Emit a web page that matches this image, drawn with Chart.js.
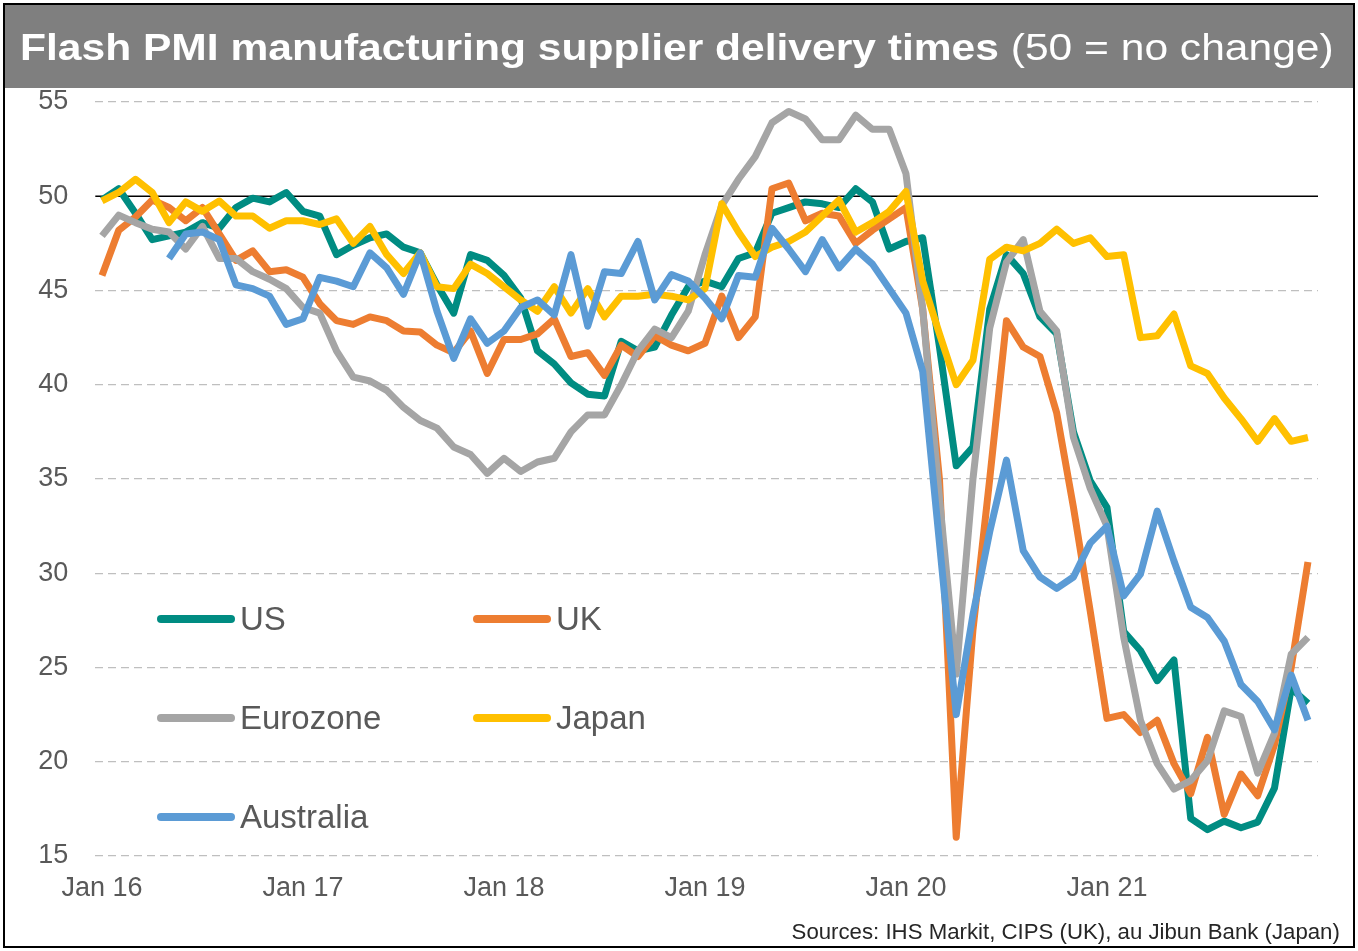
<!DOCTYPE html>
<html>
<head>
<meta charset="utf-8">
<script src="https://cdn.jsdelivr.net/npm/chart.js@4.4.1/dist/chart.umd.min.js"></script>
<style>
  body { margin: 0; background: #fff; }
  #wrap { position: relative; width: 1358px; height: 951px; overflow: hidden; background: #fff;
          font-family: "Liberation Sans", Arial, sans-serif; }
  #c { position: absolute; left: 0; top: 0; }
  #frame { position: absolute; left: 3px; top: 3px; width: 1352px; height: 945px; box-sizing: border-box;
           border: 2px solid #000; pointer-events: none; }
  #title { position: absolute; left: 3px; top: 3px; width: 1352px; height: 85px; background: #7f7f7f;
           color: #fff; white-space: nowrap; }
  #title .t { position: absolute; left: 17px; top: 2px; line-height: 85px; font-size: 37px;
              transform: scaleX(1.15); transform-origin: left center; }
  #title b { font-weight: bold; }
  .lg-sample { position: absolute; width: 78px; height: 8px; border-radius: 4px; }
  .lg-text { position: absolute; font-size: 33px; line-height: 40px; color: #595959; white-space: nowrap; }
  #source { position: absolute; right: 18px; top: 919px; font-size: 22px; line-height: 26px; color: #262626;
            white-space: nowrap; transform: scaleX(1.01); transform-origin: right center; }
</style>
</head>
<body>
<div id="wrap">
  <canvas id="c" width="1358" height="951"></canvas>
  <div id="title"><span class="t"><b>Flash PMI manufacturing supplier delivery times</b> (50 = no change)</span></div>
  <div id="frame"></div>
  <div id="legend"></div>
  <div id="source">Sources: IHS Markit, CIPS (UK), au Jibun Bank (Japan)</div>
</div>
<script>
// ---- Data (monthly, Jan 2016 .. Jan 2022) ----
const tickLabels = ['Jan 16', 'Jan 17', 'Jan 18', 'Jan 19', 'Jan 20', 'Jan 21'];
const noChangeLevel = 50;

const usValues = [
  49.8, 50.4, 49.1, 47.7, 47.9, 48.1, 48.6, 48.3, 49.4, 49.9, 49.7, 50.2,
  49.2, 48.95, 46.9, 47.4, 47.8, 48.0, 47.3, 47.0, 45.3, 43.8, 46.9, 46.6,
  45.8, 44.6, 41.8, 41.1, 40.1, 39.5, 39.4, 42.3, 41.8, 42.0, 43.7, 45.2,
  45.5, 45.2, 46.7, 47.0, 49.1, 49.4, 49.7, 49.6, 49.4, 50.4, 49.7, 47.2,
  47.6, 47.8, 42.0, 35.7, 36.7, 44.0, 46.9, 45.9, 43.6, 42.7, 37.5, 34.9,
  33.5, 26.9, 25.9, 24.3, 25.4, 17.0, 16.4, 16.85, 16.5, 16.8, 18.6, 23.9,
  23.1
];
const ukValues = [
  45.8, 48.2, 48.9, 49.8, 49.4, 48.7, 49.4, 48.0, 46.6, 47.1, 46.0, 46.1,
  45.7, 44.3, 43.4, 43.2, 43.6, 43.4, 42.85, 42.8, 42.1, 41.7, 42.85, 40.6,
  42.4, 42.4, 42.7, 43.5, 41.5, 41.7, 40.5, 42.1, 41.5, 42.6, 42.1, 41.8,
  42.2, 44.7, 42.5, 43.6, 50.4, 50.7, 48.7, 49.1, 48.95, 47.5, 48.2, 48.8,
  49.4, 44.0, 35.0, 16.0, 27.0, 35.0, 43.4, 42.0, 41.5, 38.5, 33.5, 28.0,
  22.3, 22.5, 21.55, 22.2, 19.9, 18.3, 21.3, 17.2, 19.35, 18.2, 20.9, 25.0,
  30.6
];
const eurozoneValues = [
  47.9, 49.0, 48.6, 48.25, 48.1, 47.2, 48.4, 46.7, 46.7, 46.0, 45.6, 45.1,
  44.1, 43.8, 41.8, 40.4, 40.2, 39.7, 38.8, 38.1, 37.7, 36.7, 36.3, 35.3,
  36.1, 35.4, 35.9, 36.1, 37.5, 38.4, 38.4, 40.0, 41.8, 42.95, 42.5, 43.9,
  46.9, 49.5, 50.9, 52.1, 53.9, 54.5, 54.1, 53.0, 53.0, 54.3, 53.55, 53.55,
  51.2, 44.0, 34.0, 24.65, 35.0, 43.0, 46.5, 47.7, 43.9, 42.85, 37.2, 34.5,
  32.5, 26.6, 22.2, 19.9, 18.55, 19.0, 20.05, 22.7, 22.4, 19.4, 21.5, 25.7,
  26.6
];
const japanValues = [
  49.75, 50.2, 50.9, 50.2, 48.6, 49.7, 49.2, 49.75, 48.95, 48.95, 48.3, 48.7,
  48.7, 48.5, 48.8, 47.5, 48.4, 46.9, 45.9, 47.0, 45.2, 45.1, 46.4, 45.9,
  45.2, 44.5, 43.9, 45.2, 43.8, 45.1, 43.6, 44.7, 44.7, 44.8, 44.7, 44.5,
  45.1, 49.6, 48.1, 46.8, 47.3, 47.6, 48.1, 48.95, 49.8, 48.1, 48.6, 49.2,
  50.25, 45.5, 42.7, 40.0, 41.3, 46.65, 47.3, 47.1, 47.5, 48.25, 47.5, 47.8,
  46.8, 46.9, 42.5, 42.6, 43.75, 41.0, 40.6, 39.3, 38.2, 37.0, 38.2, 37.0,
  37.2
];
const australiaValues = [
  null, null, null, null, 46.7, 48.0, 48.1, 47.7, 45.3, 45.1, 44.7, 43.2,
  43.5, 45.7, 45.5, 45.2, 47.0, 46.2, 44.8, 47.0, 43.9, 41.4, 43.5, 42.2,
  42.85, 44.1, 44.5, 43.7, 46.9, 43.1, 46.0, 45.9, 47.6, 44.5, 45.85, 45.5,
  44.6, 43.5, 45.8, 45.7, 48.3, 47.2, 46.0, 47.7, 46.2, 47.2, 46.4, 45.1,
  43.8, 40.7, 31.6, 22.5, 27.8, 32.2, 36.0, 31.2, 29.8, 29.2, 29.8, 31.6,
  32.5, 28.8, 29.95, 33.3, 30.65, 28.2, 27.65, 26.4, 24.1, 23.2, 21.7, 24.6,
  22.2
];

const seriesNames = ['US', 'UK', 'Eurozone', 'Japan', 'Australia'];
const seriesValues = [usValues, ukValues, eurozoneValues, japanValues, australiaValues];
const seriesColors = ['#008C82', '#ED7D31', '#A5A5A5', '#FFC000', '#5B9BD5'];

// ---- Chart ----
const FONT = '"Liberation Sans", Arial, sans-serif';
const tickPositions = tickLabels.map((_, k) => k * 12);

const refLinePlugin = {
  id: 'refLine',
  beforeDatasetsDraw(chart) {
    const c = chart.ctx;
    const y = chart.scales.y.getPixelForValue(noChangeLevel);
    const { left, right } = chart.chartArea;
    c.save();
    c.strokeStyle = '#000';
    c.lineWidth = 1.6;
    c.beginPath();
    c.moveTo(left, y);
    c.lineTo(right, y);
    c.stroke();
    c.restore();
  }
};

const datasets = seriesNames.map((name, k) => ({
  label: name,
  data: seriesValues[k].map((v, i) => ({ x: i, y: v })),
  borderColor: seriesColors[k],
  backgroundColor: seriesColors[k],
  borderWidth: 7,
  pointRadius: 0,
  pointHoverRadius: 0,
  tension: 0,
  borderJoinStyle: 'round',
  spanGaps: false,
  order: seriesNames.length - k
}));

const chart = new Chart(document.getElementById('c').getContext('2d'), {
  type: 'line',
  data: { datasets },
  options: {
    responsive: false,
    animation: false,
    events: [],
    layout: { padding: { top: 102, right: 40, left: 0, bottom: 0 } },
    plugins: { legend: { display: false }, tooltip: { enabled: false }, title: { display: false } },
    scales: {
      x: {
        type: 'linear',
        min: -0.4,
        max: 72.6,
        afterFit(s) { s.height = 95; },
        afterBuildTicks(s) { s.ticks = tickPositions.map(v => ({ value: v })); },
        grid: { display: false, drawTicks: false },
        border: { display: false },
        ticks: {
          autoSkip: false,
          maxRotation: 0,
          padding: 16,
          color: '#595959',
          font: { family: FONT, size: 27 },
          callback(v) { return tickLabels[Math.round(v / 12)] ?? ''; }
        }
      },
      y: {
        min: 15,
        max: 55,
        afterFit(s) { s.width = 95.3; },
        grid: {
          drawTicks: false,
          lineWidth: 1.3,
          color(ctx) { return ctx.tick && ctx.tick.value === noChangeLevel ? 'rgba(0,0,0,0)' : '#bfbfbf'; }
        },
        border: { display: false, dash: [8, 5] },
        ticks: {
          stepSize: 5,
          padding: 27,
          color: '#595959',
          font: { family: FONT, size: 27 }
        }
      }
    }
  },
  plugins: [refLinePlugin]
});

// ---- Legend (HTML, built from datasets) ----
const legendSlots = [[157, 619], [473, 619], [157, 718], [473, 718], [157, 817]];
const legendEl = document.getElementById('legend');
chart.data.datasets.forEach((ds, k) => {
  const [lx, ly] = legendSlots[k];
  const sample = document.createElement('div');
  sample.className = 'lg-sample';
  sample.style.left = lx + 'px';
  sample.style.top = (ly - 4) + 'px';
  sample.style.background = ds.borderColor;
  const txt = document.createElement('div');
  txt.className = 'lg-text';
  txt.style.left = (lx + 83) + 'px';
  txt.style.top = (ly - 20) + 'px';
  txt.textContent = ds.label;
  legendEl.appendChild(sample);
  legendEl.appendChild(txt);
});
</script>
</body>
</html>
